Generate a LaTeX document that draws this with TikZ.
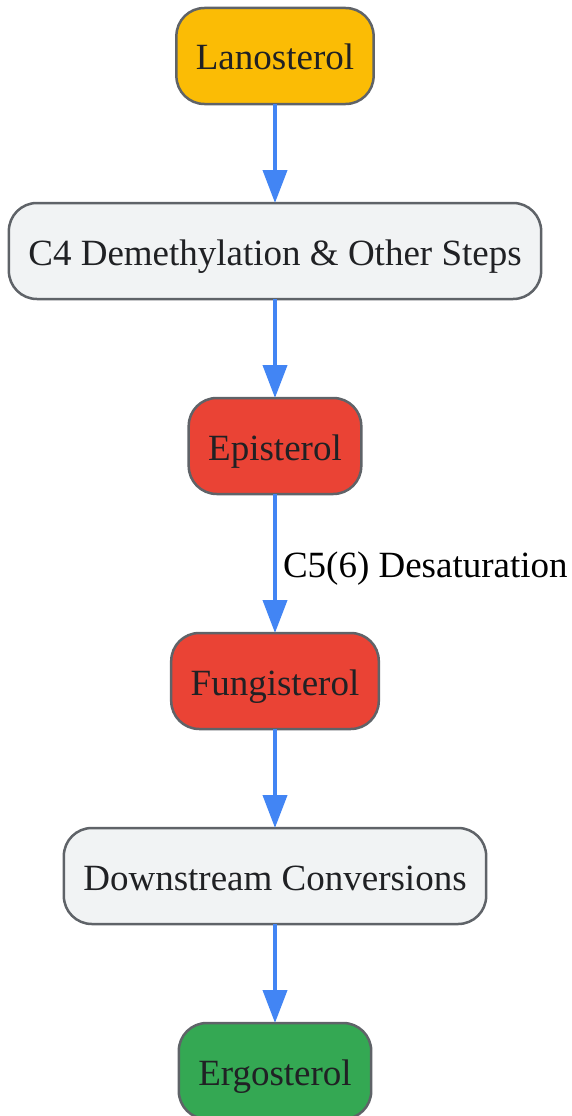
\documentclass[tikz,border=0pt]{standalone}
\usepackage{fontspec}
\setmainfont{Liberation Serif}
\usetikzlibrary{positioning,arrows.meta}
\definecolor{stepgray}{HTML}{F1F3F4}
\definecolor{lanoyellow}{HTML}{FBBC05}
\definecolor{sterolred}{HTML}{EA4335}
\definecolor{ergogreen}{HTML}{34A853}
\definecolor{rimgray}{HTML}{5F6368}
\definecolor{flowblue}{HTML}{4285F4}
\definecolor{inkgray}{HTML}{202124}
\begin{document}
\begin{tikzpicture}[x=1pt,y=1pt,
    font=\fontsize{37}{44}\selectfont,
    box/.style={draw=rimgray, line width=2.5pt, rounded corners=28pt,
      minimum height=96pt, inner xsep=19.5pt, inner ysep=0pt, outer sep=0pt,
      text height=35pt, text depth=7pt, text=inkgray, fill=stepgray},
    flow/.style={color=flowblue, line width=4pt,
      -{Triangle[width=24pt,length=33pt]}},
    lbl/.style={right, inner sep=0pt, xshift=6pt, yshift=-5pt, text=black}]
   \useasboundingbox (0,0) rectangle (571,-1116);
   \clip (0,0) rectangle (571,-1116);

   \node (L)  [box, fill=lanoyellow] at (275,-56) {Lanosterol};
   \node (C4) [box, below=99pt of L]              {C4 Demethylation \& Other Steps};
   \node (Ep) [box, fill=sterolred, below=99pt of C4] {Episterol};
   \node (Fu) [box, fill=sterolred, below=139pt of Ep] {Fungisterol};
   \node (Dc) [box, below=99pt of Fu]             {Downstream Conversions};
   \node (Er) [box, fill=ergogreen, below=99pt of Dc] {Ergosterol};

   \path[flow]
     (L)  edge (C4)
     (C4) edge (Ep)
     (Ep) edge node [lbl] {C5(6) Desaturation} (Fu)
     (Fu) edge (Dc)
     (Dc) edge (Er);
\end{tikzpicture}
\end{document}
